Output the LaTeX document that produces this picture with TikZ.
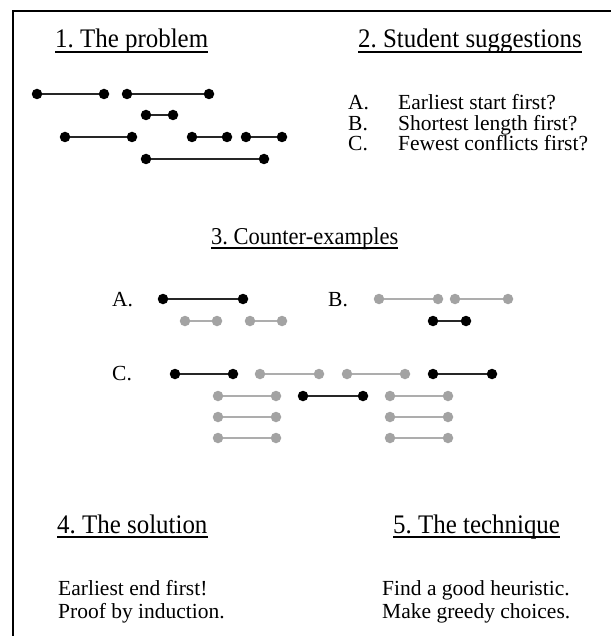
\documentclass[tikz,border=0pt]{standalone}
\usepackage{fontspec}
\setmainfont{Liberation Serif}
\newfontfamily\headfont[FakeStretch=0.93]{Liberation Serif}
\definecolor{dotgray}{HTML}{A3A3A3}
\definecolor{linegray}{HTML}{ADADAD}
\newcommand\myivl[6]{%
  \node[#5] (#1a) at (#2,#4) {};
  \node[#5] (#1b) at (#3,#4) {};
  \draw[#6] (#1a) -- (#1b);
}
\frenchspacing
\begin{document}
\begin{tikzpicture}[x=1pt,y=-1pt,
  head/.style={inner sep=0pt, anchor=base west, font=\headfont\fontsize{26.8}{30}\selectfont},
  headsmall/.style={inner sep=0pt, anchor=base west, font=\headfont\fontsize{24.2}{28}\selectfont},
  body/.style={inner sep=0pt, anchor=base west, font=\fontsize{21.5}{26}\selectfont},
  bdot/.style={circle, fill=black, inner sep=0pt, minimum size=10.5pt},
  gdot/.style={circle, fill=dotgray, inner sep=0pt, minimum size=10.5pt},
  bline/.style={line width=1.8pt, draw=black!85},
  gline/.style={line width=1.8pt, draw=linegray},
  uline/.style={line width=1.4pt},
  frameline/.style={line width=1.8pt}]
\useasboundingbox (0,0) rectangle (611,636);
% frame
\coordinate (fb) at (13,636);
\coordinate (fc) at (13,11);
\coordinate (fr) at (611,11);
\draw[frameline] (fb) -- (fc) -- (fr);
% headings
\node[head] (h1) at (55,48) {1. The problem};
\node[head] (h2) at (358,48) {2. Student suggestions};
\node[headsmall] (h3) at (211,244) {3. Counter-examples};
\node[head] (h4) at (57,533) {4. The solution};
\node[head] (h5) at (393,533) {5. The technique};
\foreach \h in {h1,h2,h3,h4,h5}
  \draw[uline] ([yshift=-4pt]\h.base west) -- ([yshift=-4pt]\h.base east);
% suggestions
\node[body] (la) at (348,110) {A.};
\node[body] (ta) at (398,110) {Earliest start first?};
\node[body] (lb) at (348,130.5) {B.};
\node[body] (tb) at (398,130.5) {Shortest length first?};
\node[body] (lc) at (348,151) {C.};
\node[body] (tc) at (398,151) {Fewest conflicts first?};
% solution / technique
\node[body] (s1) at (58,595) {Earliest end first!};
\node[body] (s2) at (58,618) {Proof by induction.};
\node[body] (t1) at (382,595) {Find a good heuristic.};
\node[body] (t2) at (382,618) {Make greedy choices.};
% problem intervals
\myivl{p1}{37}{104}{94}{bdot}{bline}
\myivl{p2}{127}{209}{94}{bdot}{bline}
\myivl{p3}{146}{173}{115}{bdot}{bline}
\myivl{p4}{65}{132}{137}{bdot}{bline}
\myivl{p5}{192}{227}{137}{bdot}{bline}
\myivl{p6}{246}{282}{137}{bdot}{bline}
\myivl{p7}{146}{264}{159}{bdot}{bline}
% counter-example labels
\node[body] (ca) at (112,306) {A.};
\node[body] (cb) at (328,306) {B.};
\node[body] (cc) at (112,380) {C.};
% A
\myivl{a1}{163}{243}{299}{bdot}{bline}
\myivl{a2}{185}{217}{321}{gdot}{gline}
\myivl{a3}{250}{282}{321}{gdot}{gline}
% B
\myivl{b1}{379}{438}{299}{gdot}{gline}
\myivl{b2}{455}{508}{299}{gdot}{gline}
\myivl{b3}{433}{466}{321}{bdot}{bline}
% C
\myivl{c1}{175}{233}{374}{bdot}{bline}
\myivl{c2}{260}{319}{374}{gdot}{gline}
\myivl{c3}{347}{405}{374}{gdot}{gline}
\myivl{c4}{433}{492}{374}{bdot}{bline}
\myivl{c5}{218}{276}{396}{gdot}{gline}
\myivl{c6}{303}{363}{396}{bdot}{bline}
\myivl{c7}{390}{448}{396}{gdot}{gline}
\myivl{c8}{218}{276}{417}{gdot}{gline}
\myivl{c9}{390}{448}{417}{gdot}{gline}
\myivl{c10}{218}{276}{438}{gdot}{gline}
\myivl{c11}{390}{448}{438}{gdot}{gline}
\end{tikzpicture}
\end{document}
